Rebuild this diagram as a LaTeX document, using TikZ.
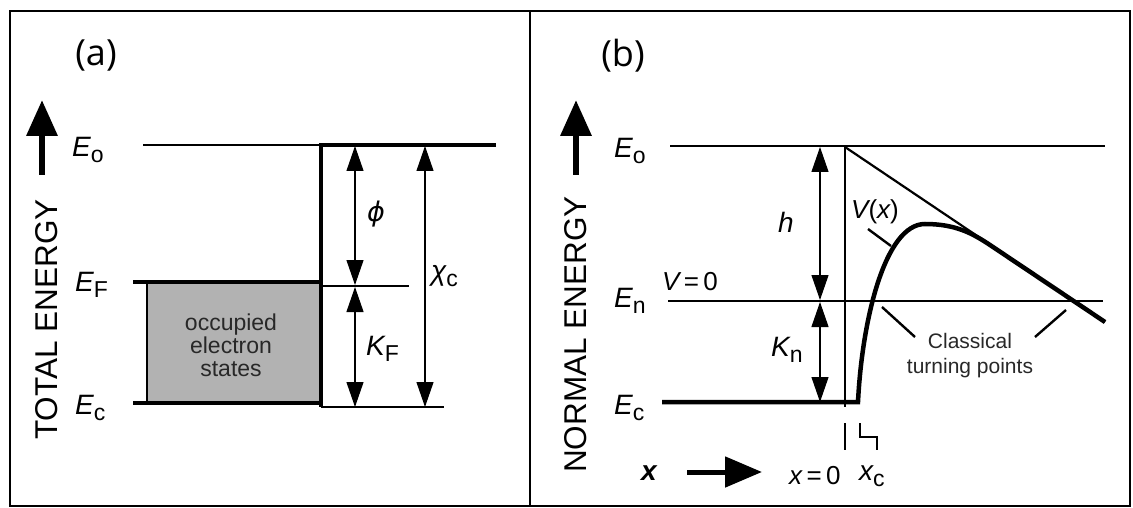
\documentclass[tikz,border=0pt]{standalone}
\usepackage{fontspec}
\setmainfont{Liberation Sans}
\newfontfamily\panelfont{Open Sans}
\newfontfamily\greekfont{DejaVu Sans}
\usetikzlibrary{arrows.meta}
\newcommand{\sublab}[2]{{\itshape #1}\raisebox{-6pt}{\fontsize{23}{23}\selectfont #2}}
\begin{document}
\begin{tikzpicture}[x=1pt,y=-1pt,
  thinline/.style={line width=1.4pt},
  heavy/.style={line width=4pt},
  leader/.style={line width=2.4pt},
  dimarrow/.style={line width=1.1pt,{Triangle[length=25pt,width=17pt]}-{Triangle[length=25pt,width=17pt]}},
  bigarrow/.style={line width=6.5pt,-{Triangle[length=36pt,width=30pt]}},
  lab/.style={inner sep=0pt,font=\fontsize{28}{28}\selectfont},
  axislab/.style={inner sep=0pt,rotate=90,anchor=base west,font=\fontsize{31.5}{31.5}\selectfont},
  paneltag/.style={inner sep=0pt,font=\panelfont\fontsize{36}{36}\selectfont},
  small/.style={inner sep=0pt,align=center,font=\fontsize{23}{23}\selectfont}
]
\useasboundingbox (0,0) rectangle (1133,508);
% frame
\draw[line width=2.2pt] (10,11) rectangle (1130,506);
\draw[line width=2.2pt] (530,11) -- (530,506);

% ---------------- panel (a) ----------------
\node[paneltag] (pa) at (96,55) {(a)};
\coordinate (aax0) at (42,175);
\coordinate (aax1) at (42,100);
\draw[bigarrow] (aax0) -- (aax1);
\node[axislab] (atot) at (57,440) {TOTAL ENERGY};

\coordinate (aEo1) at (143,145);
\coordinate (aEo2) at (321,145);
\coordinate (aEo3) at (496,145);
\coordinate (aStepB) at (321,407);
\coordinate (aEF1) at (133,282);
\coordinate (aEF2) at (321,282);
\coordinate (aEF3) at (409,286);
\coordinate (aEF4) at (321,286);
\coordinate (aEc1) at (133,403);
\coordinate (aEc2) at (321,403);
\coordinate (aEc3) at (444,407);

\fill[fill={rgb,255:red,178;green,178;blue,178}] (147,282) rectangle (321,403);
\draw[line width=2.6pt] (147,282) -- (147,403);
\draw[thinline] (aEo1) -- (aEo2);
\draw[heavy,line join=miter] (aEo3) -- (aEo2) -- (aStepB);
\draw[heavy] (aEF1) -- (aEF2);
\draw[heavy] (aEc1) -- (aEc2);
\draw[thinline] (aEF4) -- (aEF3);
\draw[thinline] (aStepB) -- (aEc3);

\node[small,text={rgb,255:red,40;green,40;blue,40}] (occ) at (231,345) {occupied\\electron\\states};

\coordinate (phiT) at (355,146);
\coordinate (phiB) at (355,285);
\coordinate (kfT) at (355,287);
\coordinate (kfB) at (355,407);
\coordinate (chiT) at (425,146);
\coordinate (chiB) at (425,407);
\draw[dimarrow] (phiT) -- (phiB);
\draw[dimarrow] (kfT) -- (kfB);
\draw[dimarrow] (chiT) -- (chiB);
\node[lab,font=\greekfont\itshape\fontsize{27}{27}\selectfont] (phil) at (376,214) {ϕ};
\node[lab,anchor=west] (kfl) at (366,349) {\sublab{K}{F}};
\node[lab,anchor=west] (chil) at (431,276) {\sublab{χ}{c}};

\node[lab,anchor=west] (aEol) at (72,150) {\sublab{E}{o}};
\node[lab,anchor=west] (aEFl) at (75,285) {\sublab{E}{F}};
\node[lab,anchor=west] (aEcl) at (75,408) {\sublab{E}{c}};

% ---------------- panel (b) ----------------
\node[paneltag] (pb) at (623,56) {(b)};
\coordinate (bax0) at (576,175);
\coordinate (bax1) at (576,100);
\draw[bigarrow] (bax0) -- (bax1);
\node[axislab] (bnorm) at (586,473) {NORMAL ENERGY};

\coordinate (bEo1) at (670,146);
\coordinate (bEo2) at (1105,146);
\coordinate (bEn1) at (668,301);
\coordinate (bEn2) at (1103,301);
\coordinate (bEc1) at (662,402);
\coordinate (bEc2) at (858,402);
\coordinate (bV0T) at (845,147);
\coordinate (bV0B) at (845,407);
\coordinate (bDiagE) at (1105,322);
\coordinate (bPeak) at (925,224);
\coordinate (bMerge) at (990,245);

\draw[thinline] (bEo1) -- (bEo2);
\draw[thinline] (bEn1) -- (bEn2);
\draw[thinline] (bV0T) -- (bV0B);
\draw[line width=2.2pt] (bV0T) -- (bDiagE);
\draw[line width=4.5pt,line join=miter] (bEc1) -- (bEc2)
  .. controls (862,320) and (885,224) .. (bPeak)
  .. controls (955,224) and (972,233) .. (bMerge) -- (bDiagE);

\coordinate (hT) at (820,147);
\coordinate (hB) at (820,300);
\coordinate (knT) at (820,302);
\coordinate (knB) at (820,402);
\draw[dimarrow] (hT) -- (hB);
\draw[dimarrow] (knT) -- (knB);
\node[lab] (hl) at (786,222) {\itshape h};
\node[lab,anchor=west] (knl) at (771,350) {\sublab{K}{n}};

\node[lab,anchor=west] (bEol) at (614,151) {\sublab{E}{o}};
\node[lab,anchor=west] (bEnl) at (614,301) {\sublab{E}{n}};
\node[lab,anchor=west] (bEcl) at (614,408) {\sublab{E}{c}};
\node[lab,anchor=west,font=\fontsize{26}{26}\selectfont] (v0) at (662,282) {{\itshape V}\,=\,0};
\node[lab,anchor=west,font=\fontsize{26}{26}\selectfont] (vx) at (851,212) {{\itshape V}({\itshape x})};

\coordinate (ld1a) at (868,229);
\coordinate (ld1b) at (891,246);
\draw[leader] (ld1a) -- (ld1b);
\coordinate (ld2a) at (882,307);
\coordinate (ld2b) at (915,337);
\draw[leader] (ld2a) -- (ld2b);
\coordinate (ld3a) at (1066,310);
\coordinate (ld3b) at (1035,337);
\draw[leader] (ld3a) -- (ld3b);
\node[small,font=\fontsize{21}{25}\selectfont,text={rgb,255:red,40;green,40;blue,40}] (ctp) at (970,356) {Classical\\turning points};

% ticks
\coordinate (tk1a) at (845,423);
\coordinate (tk1b) at (845,450);
\draw[line width=2.2pt] (tk1a) -- (tk1b);
\coordinate (tk2a) at (860,423);
\coordinate (tk2b) at (877,450);
\draw[line width=2.2pt] (tk2a) -- (860,437) -- (877,437) -- (tk2b);

% x axis
\node[lab,font=\fontsize{28}{28}\selectfont\bfseries\itshape] (xb) at (649,473) {x};
\coordinate (xa0) at (687,472);
\coordinate (xa1) at (762,472);
\draw[line width=5pt,-{Triangle[length=37pt,width=30pt]}] (xa0) -- (xa1);
\node[lab,anchor=west,font=\fontsize{26}{26}\selectfont] (x0) at (789,476) {{\itshape x}\,=\,0};
\node[lab,anchor=west] (xcl) at (859,476) {\sublab{x}{c}};
\end{tikzpicture}
\end{document}
